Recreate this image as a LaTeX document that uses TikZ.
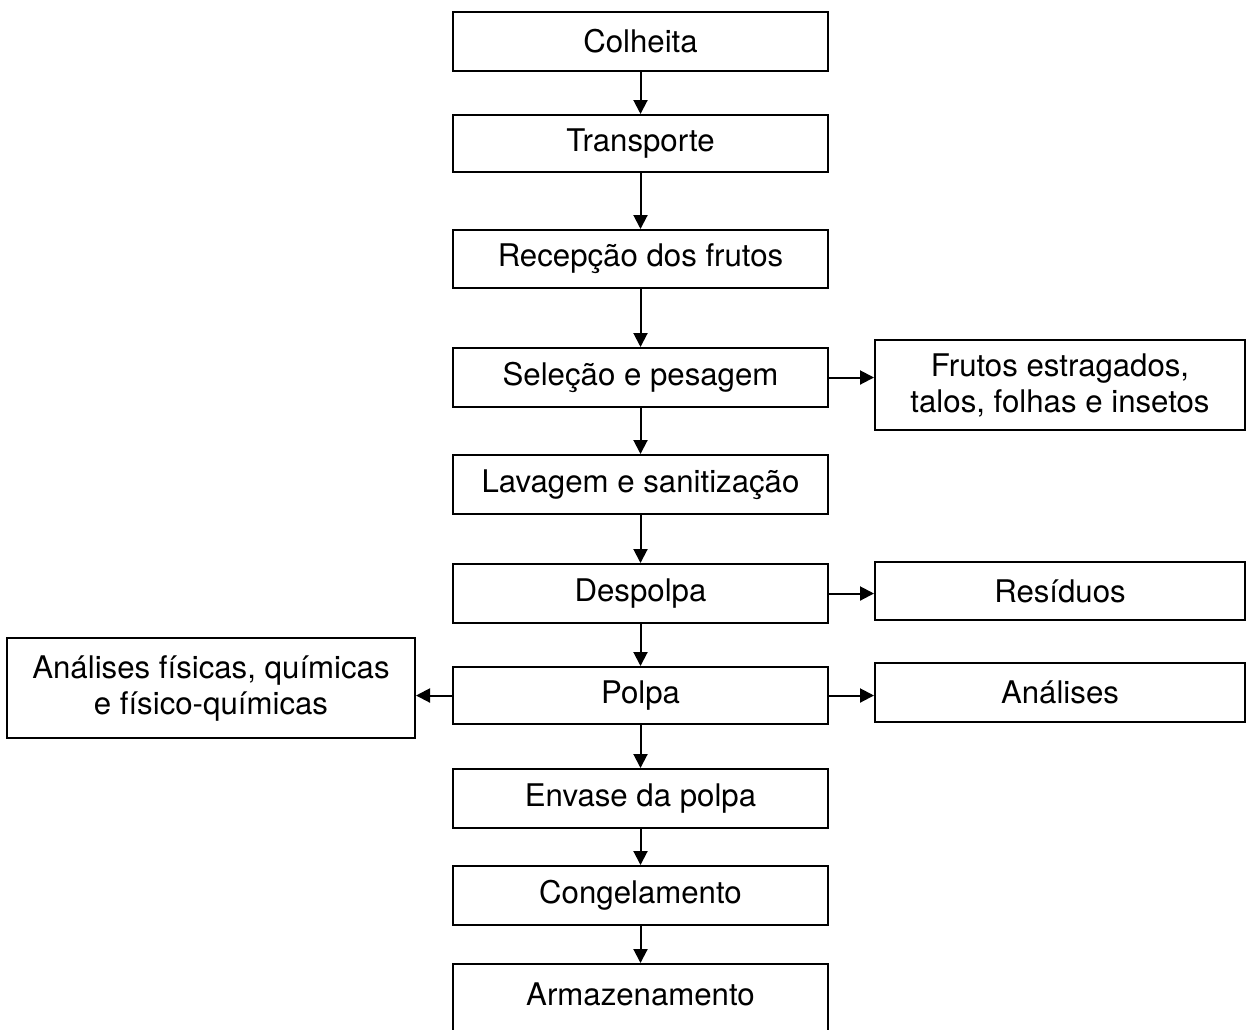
\documentclass[tikz,border=0pt]{standalone}
\usepackage{fontspec}
\setmainfont{TeX Gyre Heros}
\usetikzlibrary{arrows.meta}
\begin{document}
\begin{tikzpicture}[x=0.5pt,y=-0.5pt,
  box/.style={draw=black,line width=1pt,inner sep=0pt,align=center,font=\fontsize{15.6}{18}\selectfont},
  mainbox/.style={box,minimum width=187.5pt},
  rightbox/.style={box,minimum width=185pt},
  arr/.style={line width=1pt,-{Triangle[length=7pt,width=7pt]}}]
\useasboundingbox (0,0) rectangle (1246,1029);
\clip (0,0) rectangle (1246,1029);
% main column
\node[mainbox,minimum height=29.5pt] (colheita) at (640.5,41.5) {Colheita};
\node[mainbox,minimum height=28.5pt] (transporte) at (640.5,143.5) {Transporte};
\node[mainbox,minimum height=29pt] (recepcao) at (640.5,259) {Recepção dos frutos};
\node[mainbox,minimum height=29.5pt] (selecao) at (640.5,377.5) {Seleção e pesagem};
\node[mainbox,minimum height=29.5pt] (lavagem) at (640.5,484.5) {Lavagem e sanitização};
\node[mainbox,minimum height=29.5pt] (despolpa) at (640.5,593.5) {Despolpa};
\node[mainbox,minimum height=28.5pt] (polpa) at (640.5,695.5) {Polpa};
\node[mainbox,minimum height=29.5pt] (envase) at (640.5,798.5) {Envase da polpa};
\node[mainbox,minimum height=29.5pt] (congel) at (640.5,895.5) {Congelamento};
\node[mainbox,minimum height=40pt,text depth=0pt] (armaz) at (640.5,1004) {\raisebox{10pt}{Armazenamento}};
% right column
\node[rightbox,minimum height=45pt] (frutos) at (1060,385) {Frutos estragados,\\talos, folhas e insetos};
\node[rightbox,minimum height=29pt] (residuos) at (1060,591) {Resíduos};
\node[rightbox,minimum height=29.5pt] (analises) at (1060,692.5) {Análises};
% left box
\node[box,minimum width=204pt,minimum height=50pt] (afq) at (211,688) {Análises físicas, químicas\\e físico-químicas};
% connectors
\draw[arr] (colheita) -- (transporte);
\draw[arr] (transporte) -- (recepcao);
\draw[arr] (recepcao) -- (selecao);
\draw[arr] (selecao) -- (lavagem);
\draw[arr] (lavagem) -- (despolpa);
\draw[arr] (despolpa) -- (polpa);
\draw[arr] (polpa) -- (envase);
\draw[arr] (envase) -- (congel);
\draw[arr] (congel.south) -- (armaz.north);
\draw[arr] (selecao.east) -- (selecao.east -| frutos.west);
\draw[arr] (despolpa.east) -- (despolpa.east -| residuos.west);
\draw[arr] (polpa.east) -- (polpa.east -| analises.west);
\draw[arr] (polpa.west) -- (polpa.west -| afq.east);
\end{tikzpicture}
\end{document}
